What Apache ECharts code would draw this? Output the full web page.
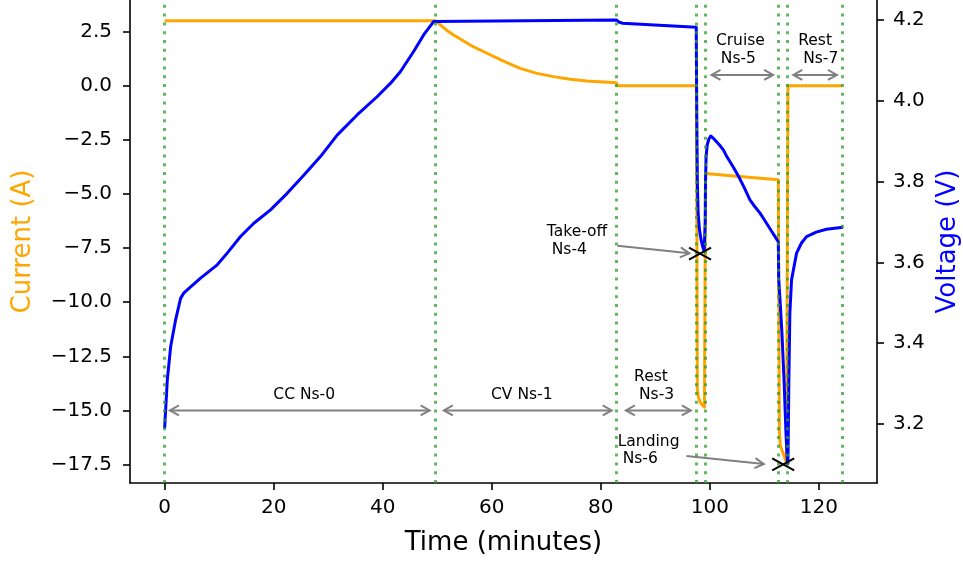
<!DOCTYPE html>
<html><head><meta charset="utf-8">
<script src="https://cdn.jsdelivr.net/npm/echarts@6/dist/echarts.min.js"></script>
<style>html,body{margin:0;padding:0;background:#fff}#c{width:963px;height:565px}</style>
</head><body><div id="c"></div><script>
// ---- data ----
const currentTime = [0, 49.64, 50.1, 50.56, 51.2, 51.79, 53.0, 56.05, 59.11, 62.15, 65.21, 68.27, 71.31, 74.37, 77.43, 80.47, 82.85, 82.95, 97.55, 97.7, 97.85, 98.2, 98.6, 99.0, 99.12, 99.2, 106.0, 112.55, 112.75, 112.9, 113.3, 113.7, 114.05, 114.25, 114.32, 124.3];
const currentValues = [3.0, 3.0, 2.93, 2.81, 2.68, 2.55, 2.34, 1.88, 1.50, 1.14, 0.80, 0.57, 0.42, 0.30, 0.22, 0.17, 0.14, 0.0, 0.0, -14.0, -14.35, -14.6, -14.75, -14.85, -14.87, -4.05, -4.2, -4.34, -16.0, -16.6, -16.9, -17.15, -17.4, -17.45, 0.0, 0.0];
const voltageTime = [0, 0.49, 1.1, 2.0, 2.93, 3.5, 4.15, 6.59, 9.65, 11.48, 13.92, 16.36, 19.42, 22.47, 25.52, 28.58, 31.64, 35.3, 38.96, 41.4, 43.23, 45.67, 47.5, 49.33, 49.64, 82.9, 83.3, 84.0, 89.0, 97.5, 97.6, 97.7, 97.85, 98.1, 98.4, 98.7, 98.95, 99.1, 99.15, 99.2, 99.3, 99.5, 99.8, 100.15, 100.8, 101.8, 102.5, 103.1, 104.2, 105.3, 106.3, 107.35, 108.3, 109.2, 110.1, 111.0, 111.8, 112.55, 112.62, 112.9, 113.2, 113.6, 113.95, 114.2, 114.32, 114.4, 114.49, 114.67, 114.98, 115.9, 116.8, 117.73, 119.5, 121.4, 124.4];
const voltageValues = [3.189, 3.309, 3.391, 3.457, 3.511, 3.524, 3.532, 3.561, 3.594, 3.623, 3.664, 3.697, 3.730, 3.771, 3.816, 3.862, 3.915, 3.965, 4.010, 4.043, 4.072, 4.122, 4.163, 4.196, 4.2, 4.2, 4.195, 4.192, 4.188, 4.182, 3.95, 3.80, 3.72, 3.68, 3.655, 3.638, 3.628, 3.624, 3.70, 3.80, 3.86, 3.89, 3.905, 3.913, 3.905, 3.89, 3.878, 3.862, 3.838, 3.812, 3.785, 3.755, 3.737, 3.722, 3.703, 3.684, 3.667, 3.651, 3.56, 3.50, 3.43, 3.31, 3.18, 3.11, 3.102, 3.2, 3.309, 3.474, 3.557, 3.623, 3.648, 3.664, 3.675, 3.682, 3.687];
const phaseBoundaries = [0, 49.6, 82.9, 97.5, 99.2, 112.6, 114.25, 124.3];
const xTicks = [0, 20, 40, 60, 80, 100, 120];
const currentTicks = [-17.5, -15, -12.5, -10, -7.5, -5, -2.5, 0, 2.5];
const voltageTicks = [3.2, 3.4, 3.6, 3.8, 4.0, 4.2];
// span arrows (current axis): start, end, level
const spanStart = [0.97, 51.2, 84.6, 100.3, 115.3];
const spanEnd = [48.6, 82.0, 96.5, 111.6, 123.3];
const spanLevel = [-15, -15, -15, 0.5, 0.5];
// labels (current axis coords)
const annoLabels = ['CC Ns-0', 'CV Ns-1', 'Rest\n Ns-3', 'Take-off\n Ns-4', 'Cruise\n Ns-5', 'Landing\n Ns-6', 'Rest\n Ns-7'];
const annoX = [25.6, 65.5, 86.1, 70.1, 101.1, 83.1, 116.2];
const annoY = [-14.29, -14.29, -13.86, -7.17, 1.65, -16.84, 1.65];
const annoAlign = ['center', 'center', 'left', 'left', 'left', 'left', 'left'];
// pointer arrows (voltage axis): from -> to
const pointerFromT = [83.04, 95.71];
const pointerFromV = [3.641, 3.121];
const pointerToT = [96.23, 109.9];
const pointerToV = [3.6225, 3.101];
// event markers (voltage axis)
const markerT = [98.19, 113.45];
const markerV = [3.622, 3.100];

// ---- chart ----
const chart = echarts.init(document.getElementById('c'), null, {renderer: 'canvas'});
const FONT = '"DejaVu Sans", "Liberation Sans", sans-serif';
const fmtMinus = v => v.toFixed(1).replace('-', '\u2212');
const GRAY = '#808080';

function head(tip, from, L, W) {
  const dx = from[0] - tip[0], dy = from[1] - tip[1];
  const len = Math.hypot(dx, dy) || 1;
  const ux = dx / len, uy = dy / len, nx = -uy, ny = ux;
  return {type: 'polyline', shape: {points: [
    [tip[0] + L * ux + W * nx, tip[1] + L * uy + W * ny], tip,
    [tip[0] + L * ux - W * nx, tip[1] + L * uy - W * ny]]},
    style: {stroke: GRAY, fill: null, lineWidth: 2}};
}

const option = {
  animation: false,
  backgroundColor: '#fff',
  grid: {left: 130, right: 86, top: 0, bottom: 82, containLabel: false, outerBoundsMode: 'none'},
  xAxis: {
    type: 'value', min: -6.35, max: 130.65,
    name: 'Time (minutes)', nameLocation: 'middle', nameGap: 60,
    nameTextStyle: {fontSize: 26, fontFamily: FONT, color: '#000', verticalAlign: 'middle'},
    axisLine: {show: true, onZero: false, lineStyle: {color: '#000', width: 1.6}},
    axisTick: {show: true, length: 7, lineStyle: {color: '#000', width: 1.6}, customValues: xTicks},
    axisLabel: {fontSize: 20, fontFamily: FONT, color: '#000', margin: 15, customValues: xTicks},
    splitLine: {show: false}
  },
  yAxis: [{
    type: 'value', position: 'left', min: -18.35, max: 3.96,
    name: 'Current (A)', nameLocation: 'middle', nameGap: 107, nameRotate: 90,
    nameTextStyle: {fontSize: 26, fontFamily: FONT, color: '#FFA500', verticalAlign: 'middle', align: 'center'},
    axisLine: {show: true, onZero: false, lineStyle: {color: '#000', width: 1.6}},
    axisTick: {show: true, length: 7, lineStyle: {color: '#000', width: 1.6}, customValues: currentTicks},
    axisLabel: {fontSize: 20, fontFamily: FONT, color: '#000', margin: 18, customValues: currentTicks, formatter: v => fmtMinus(v)},
    splitLine: {show: false}
  }, {
    type: 'value', position: 'right', min: 3.054, max: 4.2495,
    name: 'Voltage (V)', nameLocation: 'middle', nameGap: 71, nameRotate: 90,
    nameTextStyle: {fontSize: 26, fontFamily: FONT, color: '#0000FF', verticalAlign: 'middle', align: 'center'},
    axisLine: {show: true, onZero: false, lineStyle: {color: '#000', width: 1.6}},
    axisTick: {show: true, length: 7, lineStyle: {color: '#000', width: 1.6}, customValues: voltageTicks},
    axisLabel: {fontSize: 20, fontFamily: FONT, color: '#000', margin: 16, customValues: voltageTicks, formatter: v => v.toFixed(1)},
    splitLine: {show: false}
  }],
  series: [{
    name: 'Current', type: 'line', xAxisIndex: 0, yAxisIndex: 0, z: 2,
    data: currentTime.map((t, i) => [t, currentValues[i]]),
    showSymbol: false, symbol: 'none', smooth: false,
    lineStyle: {color: '#FFA500', width: 3, join: 'round'}
  }, {
    name: 'Voltage', type: 'line', xAxisIndex: 0, yAxisIndex: 1, z: 3,
    data: voltageTime.map((t, i) => [t, voltageValues[i]]),
    showSymbol: false, symbol: 'none', smooth: false,
    lineStyle: {color: '#0000FF', width: 3, join: 'round'}
  }, {
    name: 'phases', type: 'line', xAxisIndex: 0, yAxisIndex: 0, z: 5, data: [],
    markLine: {
      silent: true, symbol: ['none', 'none'], label: {show: false}, animation: false,
      lineStyle: {color: 'rgba(44,160,44,0.75)', width: 3, type: [3, 5.8], cap: 'butt'},
      emphasis: {disabled: true},
      data: phaseBoundaries.map(b => ({xAxis: b}))
    }
  }, {
    name: 'spans', type: 'custom', xAxisIndex: 0, yAxisIndex: 0, z: 10, silent: true,
    data: spanStart.map((s, i) => [s, spanLevel[i], spanEnd[i]]),
    renderItem(params, api) {
      const a = api.coord([api.value(0), api.value(1)]);
      const b = api.coord([api.value(2), api.value(1)]);
      return {type: 'group', children: [
        {type: 'line', shape: {x1: a[0], y1: a[1], x2: b[0], y2: b[1]}, style: {stroke: GRAY, lineWidth: 2}},
        head(a, b, 9, 5), head(b, a, 9, 5)]};
    }
  }, {
    name: 'pointers', type: 'custom', xAxisIndex: 0, yAxisIndex: 1, z: 10, silent: true,
    data: pointerFromT.map((t, i) => [t, pointerFromV[i], pointerToT[i], pointerToV[i]]),
    renderItem(params, api) {
      const a = api.coord([api.value(0), api.value(1)]);
      const b = api.coord([api.value(2), api.value(3)]);
      return {type: 'group', children: [
        {type: 'line', shape: {x1: a[0], y1: a[1], x2: b[0], y2: b[1]}, style: {stroke: GRAY, lineWidth: 2}},
        head(b, a, 9, 5)]};
    }
  }, {
    name: 'markers', type: 'custom', xAxisIndex: 0, yAxisIndex: 1, z: 11, silent: true,
    data: markerT.map((t, i) => [t, markerV[i]]),
    renderItem(params, api) {
      const p = api.coord([api.value(0), api.value(1)]);
      const w = 11, h = 6;
      return {type: 'group', children: [
        {type: 'line', shape: {x1: p[0] - w, y1: p[1] - h, x2: p[0] + w, y2: p[1] + h}, style: {stroke: '#000', lineWidth: 2}},
        {type: 'line', shape: {x1: p[0] - w, y1: p[1] + h, x2: p[0] + w, y2: p[1] - h}, style: {stroke: '#000', lineWidth: 2}}]};
    }
  }, {
    name: 'labels', type: 'custom', xAxisIndex: 0, yAxisIndex: 0, z: 12, silent: true,
    data: annoX.map((x, i) => [x, annoY[i]]),
    renderItem(params, api) {
      const p = api.coord([api.value(0), api.value(1)]);
      const i = params.dataIndex;
      return {type: 'text', x: p[0], y: p[1], style: {
        text: annoLabels[i], align: annoAlign[i], verticalAlign: 'middle',
        fontSize: 15.5, fontFamily: FONT, fill: '#000', lineHeight: 17.5}};
    }
  }]
};
chart.setOption(option);
</script></body></html>
